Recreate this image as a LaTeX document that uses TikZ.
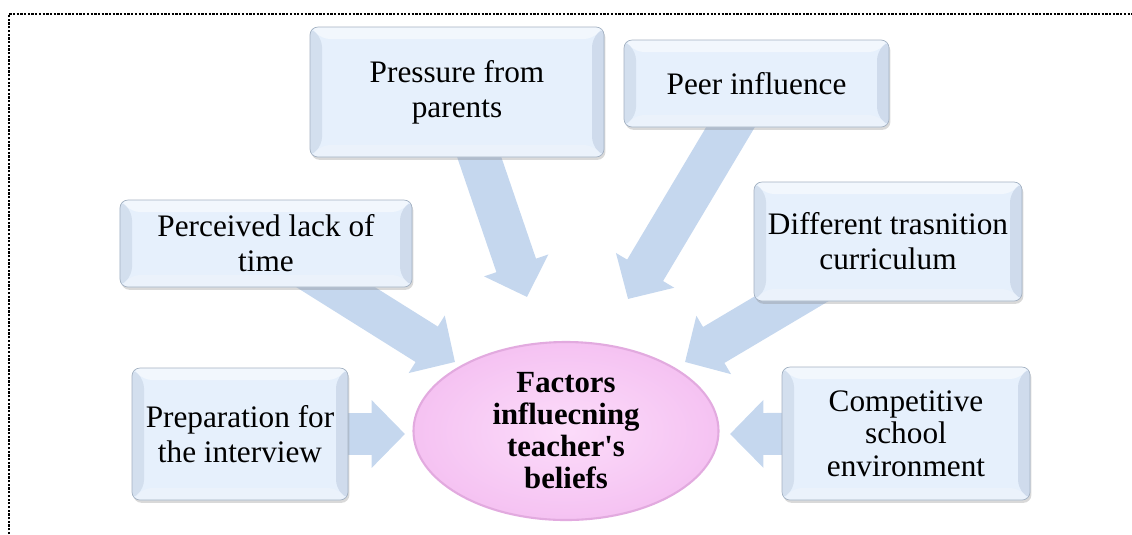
\documentclass[tikz,border=0pt]{standalone}
\usepackage{fontspec}
\setmainfont{Liberation Serif}[Ligatures=TeXOff]
\usepackage{tikz}
\usetikzlibrary{arrows.meta,shapes.geometric,shadows,backgrounds}
\definecolor{boxface}{HTML}{E6F0FC}
\definecolor{bevtop}{HTML}{F2F7FD}
\definecolor{bevleft}{HTML}{D3DFEE}
\definecolor{bevright}{HTML}{CFDBEC}
\definecolor{bevbot}{HTML}{EBF2FB}
\definecolor{boxedge}{HTML}{A3B1C2}
\definecolor{arrowfill}{HTML}{C5D7EE}
\definecolor{pinkin}{HTML}{FCDCFA}
\definecolor{pinkout}{HTML}{F5C2F2}
\definecolor{pinkedge}{HTML}{E2AADF}
\newcommand{\bvl}{2.4mm}
\tikzset{
  factorbox/.style = {rectangle, draw=boxedge, thin, fill=boxface,
    rounded corners=1.6mm, align=center, inner sep=2pt,
    font=\fontsize{17.8}{20}\selectfont,
    drop shadow={opacity=0.3, shadow xshift=0.8pt, shadow yshift=-1.6pt},
    path picture={
      \path (path picture bounding box.north west) coordinate (bnw)
            (path picture bounding box.north east) coordinate (bne)
            (path picture bounding box.south west) coordinate (bsw)
            (path picture bounding box.south east) coordinate (bse);
      \fill[bevtop] (bnw) -- (bne) -- ([shift={(-\bvl,-\bvl)}]bne)
            -- ([shift={(\bvl,-\bvl)}]bnw) -- cycle;
      \fill[bevleft] (bnw) -- ([shift={(\bvl,-\bvl)}]bnw)
            -- ([shift={(\bvl,\bvl)}]bsw) -- (bsw) -- cycle;
      \fill[bevright] (bne) -- (bse) -- ([shift={(-\bvl,\bvl)}]bse)
            -- ([shift={(-\bvl,-\bvl)}]bne) -- cycle;
      \fill[bevbot] (bsw) -- (bse) -- ([shift={(-\bvl,\bvl)}]bse)
            -- ([shift={(\bvl,\bvl)}]bsw) -- cycle;
    }},
  focus/.style     = {ellipse, draw=pinkedge, line width=1.2pt,
    inner color=pinkin, outer color=pinkout, align=center, inner sep=0pt,
    minimum width=61mm, minimum height=35.6mm,
    font=\bfseries\fontsize{17.5}{18.2}\selectfont},
  flowarrow/.style = {draw=arrowfill, line width=23.8pt,
    -{Triangle[width=37.5pt,length=19pt]}},
  frameline/.style = {line width=1.1pt, dash pattern=on 1.3pt off 0.8pt}
}

\begin{document}
\begin{tikzpicture}[x=0.2mm,y=-0.2mm]
  \useasboundingbox (0,0) rectangle (1132,534);
  % dotted frame, cut off at right and bottom
  \draw[frameline] (9,534) -- (9,14) -- (1132,14);
  % the six factors
  \node[factorbox, minimum width=58.8mm, minimum height=26mm]
       (pressure) at (457,92) {Pressure from\\parents};
  \node[factorbox, minimum width=53mm, minimum height=17.4mm]
       (peer) at (756.5,83.5) {Peer influence};
  \node[factorbox, minimum width=58.4mm, minimum height=17.4mm]
       (lacktime) at (266,243.5) {Perceived lack of\\time};
  \node[factorbox, minimum width=53.6mm, minimum height=23.8mm]
       (curric) at (888,241.5) {Different trasnition\\curriculum};
  \node[factorbox, minimum width=43.2mm, minimum height=26.4mm]
       (prep) at (240,434) {Preparation for\\the interview};
  \node[factorbox, minimum width=49.6mm, minimum height=26.6mm,
        font=\fontsize{17.8}{18.6}\selectfont]
       (compete) at (906,433.5) {Competitive\\school\\environment};
  % the centre
  \node[focus] (factors) at (566,431)
       {Factors\\influecning\\teacher's\\beliefs};
  % arrow tips, short of the ellipse
  \coordinate (pressureTip) at (527,297);
  \coordinate (peerTip)     at (628,299);
  \coordinate (lackTip)     at (455,362);
  \coordinate (curricTip)   at (685,362);
  \coordinate (prepTip)     at (405,434);
  \coordinate (competeTip)  at (730,434);
  \begin{scope}[on background layer]
    \draw[flowarrow] (pressure.center) -- (pressureTip);
    \draw[flowarrow] (peer.center)     -- (peerTip);
    \draw[flowarrow] (lacktime.center) -- (lackTip);
    \draw[flowarrow] (curric.center)   -- (curricTip);
    \draw[flowarrow] (prep.center)     -- (prepTip);
    \draw[flowarrow] (compete.center)  -- (competeTip);
  \end{scope}
\end{tikzpicture}
\end{document}
